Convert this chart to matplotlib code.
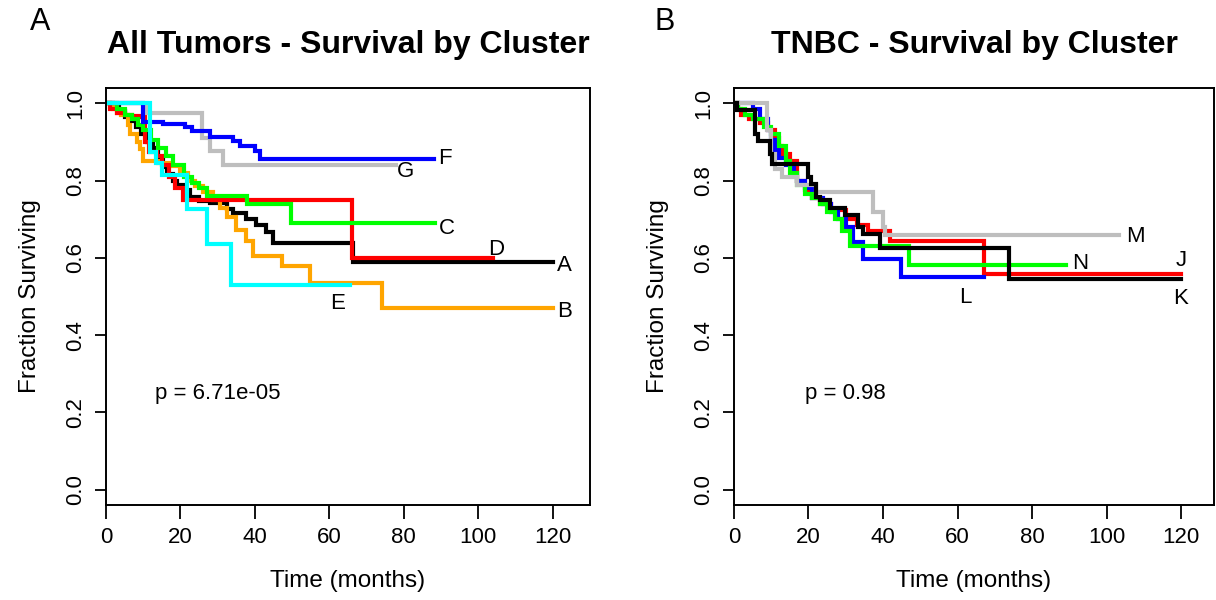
import numpy as np
import matplotlib
matplotlib.use("Agg")
import matplotlib.pyplot as plt

plt.rcParams.update({"font.family": ["Liberation Sans", "DejaVu Sans"], "font.size": 16})

# ---- panel A: all tumors (time in months, survival fraction after each event) ----
A_t = [0, 2, 3.5, 5, 6.5, 8, 9.5, 11, 12.7, 14, 15.4, 16.3, 18, 19, 21, 22.5, 25, 28, 32.4, 34.2, 37.7, 40.4, 43.1, 44.9, 66.4, 120]
A_s = [1, .99, .98, .965, .955, .94, .92, .90, .885, .86, .835, .818, .80, .79, .775, .758, .748, .742, .727, .715, .70, .684, .667, .638, .59, .59]
B_t = [0, 1, 2, 3, 4, 6, 6.4, 8.2, 9.1, 10, 14, 17, 20, 22, 24, 26, 28.8, 30.5, 32.4, 35, 37.7, 39.5, 47.2, 54.8, 74, 120]
B_s = [1, .99, .985, .975, .97, .945, .921, .90, .882, .852, .845, .838, .82, .80, .785, .77, .749, .73, .706, .671, .645, .606, .58, .535, .47, .47]
C_t = [0, 3, 5, 7, 8.5, 10, 12, 14, 16, 18, 21, 23, 25, 27, 37.8, 49.8, 88.3]
C_s = [1, .985, .97, .96, .945, .93, .905, .885, .865, .84, .81, .795, .78, .76, .74, .69, .69]
D_t = [0, 1, 3, 5, 7, 9, 10.5, 11.5, 13.6, 15, 17, 18.5, 20.8, 66, 104]
D_s = [1, .985, .975, .97, .968, .965, .90, .875, .865, .84, .81, .78, .75, .60, .60]
E_t = [0, 11.8, 13.5, 15, 21.7, 27, 33.7, 65.5]
E_s = [1, .874, .845, .814, .727, .636, .53, .53]
F_t = [0, 10, 15.4, 21.2, 23, 27.9, 34.2, 36, 40, 41.3, 88]
F_s = [1, .952, .947, .938, .929, .913, .904, .891, .878, .857, .857]
G_t = [0, 11, 25.7, 27.9, 31.5, 78]
G_s = [1, .975, .91, .877, .84, .84]

# ---- panel B: TNBC ----
J_t = [0, 1, 2, 4, 7, 9, 11, 12, 13, 15, 17, 19, 21, 23, 26, 30, 33, 36, 41.8, 67.2, 120]
J_s = [1, .985, .97, .96, .95, .93, .91, .89, .87, .85, .80, .775, .755, .74, .725, .70, .685, .67, .645, .557, .557]
K_t = [0, 0.9, 5.6, 6.5, 9.6, 10.1, 19.9, 20.8, 22, 23, 25.7, 29.7, 33.3, 34.7, 39.1, 73.9, 120]
K_s = [1, .982, .921, .904, .87, .844, .809, .792, .758, .749, .728, .71, .68, .663, .625, .546, .546]
L_t = [0, 5, 7, 9, 10, 11, 12, 14, 16, 17, 19, 21, 24, 26, 28, 30, 32, 34.6, 44.9, 67.2]
L_s = [1, .985, .96, .93, .905, .88, .86, .84, .82, .80, .78, .755, .74, .72, .70, .68, .64, .598, .55, .55]
M_t = [0, 8.8, 10, 11, 13, 17, 22, 37.3, 40, 40.5, 103.4]
M_s = [1, .93, .87, .83, .81, .79, .77, .72, .68, .658, .658]
N_t = [0, 1, 3, 5, 8, 10, 12, 14, 15, 17, 19, 21, 23, 25, 27, 29, 31.1, 47.1, 89.1]
N_s = [1, .985, .97, .96, .94, .92, .89, .85, .82, .79, .765, .756, .74, .72, .70, .67, .632, .582, .582]

left_curves = [("A", A_t, A_s, "black"), ("B", B_t, B_s, "#FFA500"), ("D", D_t, D_s, "#FF0000"),
               ("C", C_t, C_s, "#00FF00"), ("G", G_t, G_s, "#BEBEBE"), ("F", F_t, F_s, "#0000FF"),
               ("E", E_t, E_s, "#00FFFF")]
left_labels = {"F": (91, 0.857), "G": (80.5, 0.824), "C": (91.6, 0.676), "D": (104.7, 0.622),
               "A": (123.2, 0.58), "E": (62.3, 0.482), "B": (123.2, 0.461)}
right_curves = [("J", J_t, J_s, "#FF0000"), ("L", L_t, L_s, "#0000FF"), ("N", N_t, N_s, "#00FF00"),
                ("M", M_t, M_s, "#BEBEBE"), ("K", K_t, K_s, "black")]
right_labels = {"M": (107.8, 0.655), "J": (120, 0.593), "N": (93, 0.585), "L": (62, 0.497),
                "K": (120, 0.495)}

W, H = 1216, 600
fig = plt.figure(figsize=(W / 100, H / 100), dpi=100)
fig.patch.set_facecolor("white")
axL = fig.add_axes([106 / W, 1 - 505 / H, (590 - 106) / W, (505 - 88) / H])
axR = fig.add_axes([734 / W, 1 - 505 / H, (1214 - 734) / W, (505 - 88) / H])

def style(ax, xmax):
    ax.set_xlim(0, xmax)
    ax.set_ylim(-0.04, 1.04)
    ax.set_xticks([0, 20, 40, 60, 80, 100, 120])
    ax.set_yticks([0, 0.2, 0.4, 0.6, 0.8, 1.0])
    ax.set_yticklabels(["0.0", "0.2", "0.4", "0.6", "0.8", "1.0"], rotation=90, va="center")
    ax.tick_params(axis="x", length=10, width=1.3, pad=6, labelsize=16)
    ax.tick_params(axis="y", length=8, width=1.3, pad=6, labelsize=16)
    for sp in ax.spines.values():
        sp.set_linewidth(1.4)
    ax.set_xlabel("Time (months)", fontsize=17.5, labelpad=16)
    ax.set_ylabel("Fraction Surviving", fontsize=17.5, labelpad=18)

def draw(ax, curves, labels):
    for name, t, s, c in curves:
        ax.plot(t, s, drawstyle="steps-post", color=c, lw=3.0, solid_joinstyle="miter")
    for name, (x, y) in labels.items():
        ax.text(x, y, name, ha="center", va="center", fontsize=16)

style(axL, 130)
style(axR, 480 / 3.725)
draw(axL, left_curves, left_labels)
draw(axR, right_curves, right_labels)
axL.text(30, 0.25, "p = 6.71e-05", ha="center", va="center", fontsize=16)
axR.text(30, 0.25, "p = 0.98", ha="center", va="center", fontsize=16)

fig.text(348 / W, 1 - 45 / H, "All Tumors - Survival by Cluster", ha="center", va="center",
         fontsize=23, fontweight="bold")
fig.text(974 / W, 1 - 45 / H, "TNBC - Survival by Cluster", ha="center", va="center",
         fontsize=23, fontweight="bold")
fig.text(40 / W, 1 - 22 / H, "A", ha="center", va="center", fontsize=22)
fig.text(665 / W, 1 - 22 / H, "B", ha="center", va="center", fontsize=22)

fig.savefig("out.png", dpi=100, facecolor="white")
